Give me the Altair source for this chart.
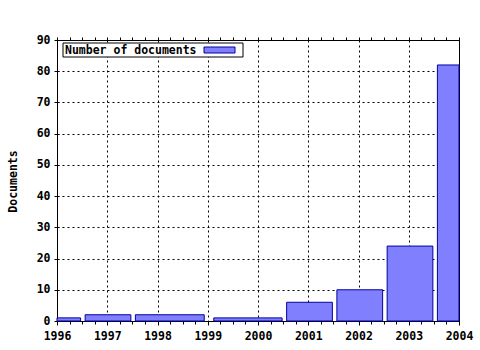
import altair as alt
import pandas as pd

# Data
bar_start = [1996.0, 1996.56, 1997.56, 1999.12, 2000.57, 2001.57, 2002.57, 2003.57]
bar_end = [1996.47, 1997.47, 1998.93, 2000.48, 2001.48, 2002.48, 2003.48, 2004.0]
documents = [1, 2, 2, 1, 6, 10, 24, 82]
year_ticks = [1996, 1997, 1998, 1999, 2000, 2001, 2002, 2003, 2004]
y_ticks = [0, 10, 20, 30, 40, 50, 60, 70, 80, 90]
minor_ticks = [1996 + i * 0.25 for i in range(33)]
legend_label = "Number of documents"

df = pd.DataFrame({"start": bar_start, "end": bar_end, "docs": documents, "base": [0] * len(documents)})

FONT = "DejaVu Sans Mono"
FILL = "#8080ff"
EDGE = "#0000a0"

xscale = alt.Scale(domain=[1996, 2004], nice=False, zero=False)
yscale = alt.Scale(domain=[0, 90], nice=False)

bars = alt.Chart(df).mark_rect(fill=FILL, stroke=EDGE, strokeWidth=1, opacity=1).encode(
    x=alt.X("start:Q", scale=xscale,
            axis=alt.Axis(orient="bottom", values=year_ticks, format="d", title=None,
                          grid=True, gridDash=[2, 3], gridColor="black", gridOpacity=1,
                          tickSize=4, labelPadding=5, labelFlush=False)),
    x2="end:Q",
    y=alt.Y("docs:Q", scale=yscale,
            axis=alt.Axis(orient="left", values=y_ticks, title="Documents",
                          grid=True, gridDash=[2, 3], gridColor="black", gridOpacity=1,
                          tickSize=3, labelPadding=4,
                          titleX=-44, titleY=141, titleAngle=270, titleAlign="center",
                          titleBaseline="middle")),
    y2="base:Q",
)

minor_bottom = alt.Chart(df).mark_rect(opacity=0).encode(
    x=alt.X("start:Q", scale=xscale,
            axis=alt.Axis(orient="bottom", values=minor_ticks, labels=False, title=None,
                          grid=False, domain=False, tickSize=3)),
    x2="end:Q",
    y=alt.Y("docs:Q", scale=yscale,
            axis=alt.Axis(orient="left", values=y_ticks, labels=False, title=None,
                          grid=False, domain=False, tickSize=2, offset=-2)),
    y2="base:Q",
)

minor_top = alt.Chart(df).mark_rect(opacity=0).encode(
    x=alt.X("start:Q", scale=xscale,
            axis=alt.Axis(orient="top", values=minor_ticks, labels=False, title=None,
                          grid=False, domain=True, tickSize=3)),
    x2="end:Q",
    y=alt.Y("docs:Q", scale=yscale, axis=None),
    y2="base:Q",
)

leg = pd.DataFrame({"label": [legend_label]})
leg_box = alt.Chart(leg).mark_rect(fill="white", stroke="black", strokeWidth=1).encode(
    x=alt.value(6), x2=alt.value(186), y=alt.value(3), y2=alt.value(17)
)
leg_swatch = alt.Chart(leg).mark_rect(fill=FILL, stroke=EDGE, strokeWidth=1).encode(
    x=alt.value(147), x2=alt.value(178), y=alt.value(7), y2=alt.value(13)
)
leg_text = alt.Chart(leg).mark_text(
    font=FONT, fontWeight="bold", fontSize=11.5, align="left", baseline="middle", color="black"
).encode(x=alt.value(8), y=alt.value(10.5), text="label:N")

chart = alt.layer(bars, minor_bottom, minor_top, leg_box, leg_swatch, leg_text).resolve_scale(
    x="shared", y="shared"
).resolve_axis(
    x="independent", y="independent"
).properties(
    width=402, height=281,
    autosize=alt.AutoSizeParams(type="none"),
    padding={"left": 57, "top": 40, "right": 21, "bottom": 29},
    background="white",
).configure_view(
    stroke="black", strokeWidth=1
).configure_axis(
    labelFont=FONT, labelFontWeight="bold", labelFontSize=11.5, labelColor="black",
    titleFont=FONT, titleFontWeight="bold", titleFontSize=11.5, titleColor="black",
    domainColor="black", tickColor="black", domainWidth=1, tickWidth=1,
)

chart.save("out.html", embed_options={"renderer": "svg", "actions": False})
